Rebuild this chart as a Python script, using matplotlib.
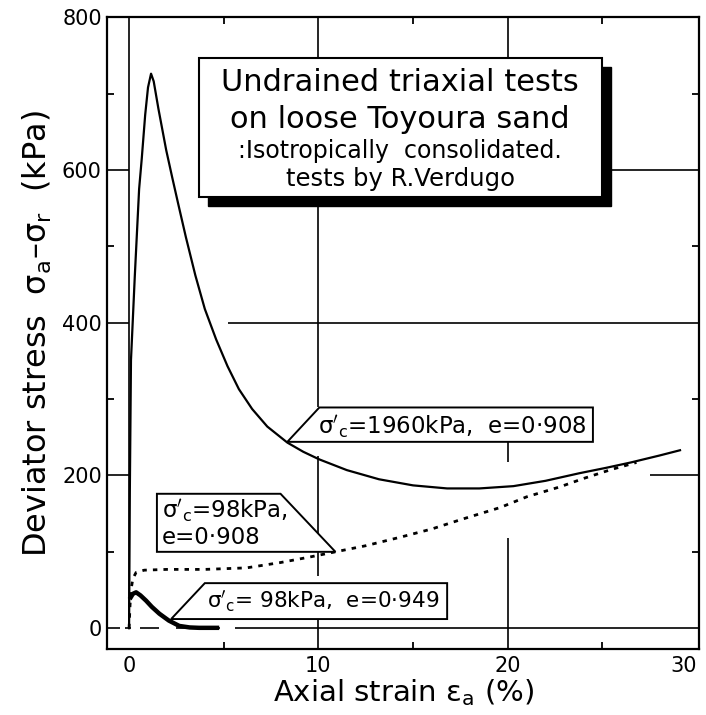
import numpy as np
import matplotlib
matplotlib.use("Agg")
import matplotlib.pyplot as plt
from matplotlib.patches import Polygon, Rectangle

# ---- data ----
# sigma'c = 1960 kPa, e = 0.908 (thin solid)
strain_1960 = [0.0, 0.04, 0.1, 0.3, 0.53, 0.67, 0.85, 1.0, 1.16, 1.3, 1.55, 1.96,
               2.28, 2.6, 3.0, 3.5, 4.0, 4.6, 5.2, 5.8, 6.5, 7.3, 8.36, 9.2,
               10.05, 11.5, 13.2, 15.0, 16.8, 18.5, 20.3, 22.0, 23.8, 25.2,
               26.5, 28.0, 29.1]
stress_1960 = [0, 180, 351, 460, 575, 615, 672, 708, 726, 716, 680, 626,
               590, 555, 512, 462, 418, 378, 343, 313, 287, 264, 243, 231,
               221, 207, 195, 187, 183, 183, 186, 193, 203, 210,
               217, 226, 233]

# sigma'c = 98 kPa, e = 0.908 (dotted)
strain_98a = [0.0, 0.05, 0.1, 0.2, 0.37, 0.8, 2.0, 4.0, 6.2, 8.0, 9.5, 10.7,
              12.5, 14.3, 16.0, 17.5, 19.6, 21.0, 22.75, 24.0, 25.5, 26.8]
stress_98a = [0, 30, 50, 65, 73, 76, 77, 77, 79, 86, 93, 99,
              108, 119, 130, 142, 158, 172, 185, 196, 208, 217]

# sigma'c = 98 kPa, e = 0.949 (thick solid)
strain_98b = [0.03, 0.2, 0.37, 0.6, 0.9, 1.2, 1.6, 2.1, 2.65, 3.2, 3.7, 4.76]
stress_98b = [38, 45, 47, 43, 36, 28, 19, 10, 3, 1, 0.5, 0.5]

x_ticks = [0, 10, 20, 30]
y_ticks = [0, 200, 400, 600, 800]

title_lines = ["Undrained triaxial tests", "on loose Toyoura sand",
               ":Isotropically  consolidated.", "tests by R.Verdugo"]
sig_c = r"$\mathrm{\sigma}'_\mathrm{c}$"
lab_1960 = sig_c + "=1960kPa,  e=0·908"
lab_98a = sig_c + "=98kPa,\ne=0·908"
lab_98b = sig_c + "= 98kPa,  e=0·949"

plt.rcParams["font.family"] = "DejaVu Sans"
plt.rcParams["mathtext.fontset"] = "dejavusans"

fig = plt.figure(figsize=(7.06, 7.15), dpi=100)
ax = fig.add_axes([0.152, 0.092, 0.838, 0.884])
ax.set_xlim(-1.15, 30.1)
ax.set_ylim(-27.5, 800)


def seg_v(x, lo, hi):
    ax.vlines([x] * len(lo), lo, hi, color="black", lw=1.2, zorder=1)


def seg_h(y, lo, hi):
    ax.hlines([y] * len(lo), lo, hi, color="black", lw=1.2, zorder=1)


# broken grid, as in the original drawing
seg_v(0, [0], [800])
seg_v(10, [564, 289, 69, -27.5], [800, 564, 226, 59])
seg_v(20, [564, 217, -27.5], [800, 244, 118])
seg_h(200, [-1.15, 27.5], [0, 30.1])
seg_h(400, [-1.15, 5.2], [0, 30.1])
seg_h(600, [-1.15, 25.0], [0, 30.1])
seg_h(0, [-1.15, -0.2, 0.6, 2.5, 5.6], [-0.5, 0.1, 1.6, 4.8, 30.1])

ax.plot(strain_1960, stress_1960, color="black", lw=1.6, zorder=3)
ax.plot(strain_98a, stress_98a, color="black", lw=2.0,
        linestyle=(0, (1.6, 2.2)), zorder=3)
ax.plot(strain_98b, stress_98b, color="black", lw=3.2, zorder=3,
        solid_capstyle="butt")

# title box with drop shadow
ax.add_patch(Rectangle((3.68 + 0.48, 564 - 11.8), 21.29, 182, facecolor="black",
                       edgecolor="black", zorder=4))
ax.add_patch(Rectangle((3.68, 564), 21.29, 182, facecolor="white",
                       edgecolor="black", lw=1.5, zorder=5))
for txt, yy, fs in zip(title_lines, [715, 666, 625, 588], [22, 22, 17, 17.5]):
    ax.text(14.32, yy, txt, ha="center", va="center", fontsize=fs, zorder=6)

# curve labels
pk = dict(closed=True, facecolor="white", edgecolor="black", lw=1.4, zorder=5)
ax.add_patch(Polygon([(8.36, 244), (10.05, 289), (24.5, 289), (24.5, 244)], **pk))
ax.add_patch(Polygon([(1.47, 176), (8.0, 176), (10.9, 100), (1.47, 100)], **pk))
ax.add_patch(Polygon([(2.22, 12), (4.0, 59), (16.8, 59), (16.8, 12)], **pk))
ax.text(10.0, 264, lab_1960, fontsize=16.5, va="center", ha="left", zorder=6)
ax.text(1.75, 138, lab_98a, fontsize=16.5, va="center", ha="left", zorder=6,
        linespacing=1.1)
ax.text(4.1, 35, lab_98b, fontsize=15.5, va="center", ha="left", zorder=6)

for s in ax.spines.values():
    s.set_linewidth(1.6)
ax.set_xticks(x_ticks)
ax.set_yticks(y_ticks)
ax.set_xticks([5, 15, 25], minor=True)
ax.set_yticks([100, 300, 500, 700], minor=True)
ax.tick_params(which="major", length=0, labelsize=15)
ax.tick_params(axis="x", which="major", pad=5)
ax.tick_params(axis="y", which="major", pad=4)
ax.tick_params(which="minor", direction="in", length=5, width=1.3,
               top=True, right=True)
ax.get_xticklabels()[-1].set_horizontalalignment("right")
ax.set_xlabel(r"Axial strain $\mathrm{\varepsilon}_\mathrm{a}$ (%)",
              fontsize=21, labelpad=1)
ax.set_ylabel(r"Deviator stress  $\mathrm{\sigma}_\mathrm{a}$–$\mathrm{\sigma}_\mathrm{r}$  (kPa)",
              fontsize=23, labelpad=6)

fig.savefig("out.png", dpi=100)
